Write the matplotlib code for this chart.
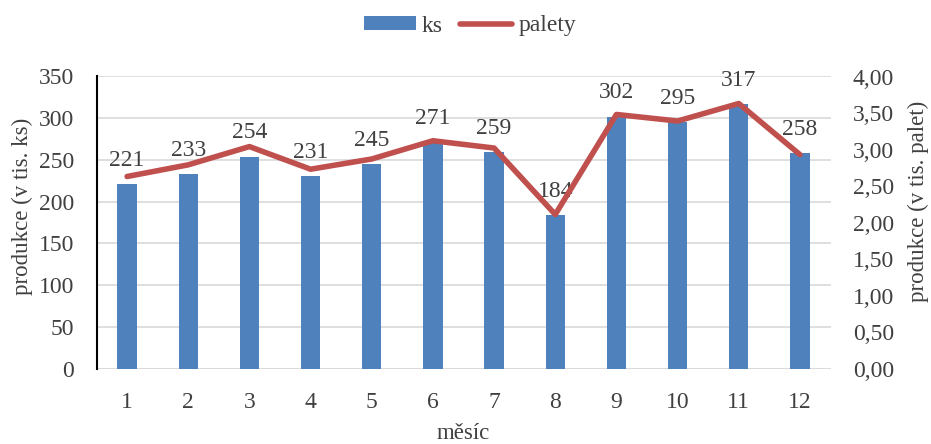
import matplotlib
matplotlib.use("Agg")
import matplotlib.pyplot as plt

months = [1, 2, 3, 4, 5, 6, 7, 8, 9, 10, 11, 12]
ks = [221, 233, 254, 231, 245, 271, 259, 184, 302, 295, 317, 258]
palety = [2.63, 2.79, 3.04, 2.73, 2.87, 3.12, 3.02, 2.11, 3.48, 3.39, 3.63, 2.93]
left_ticks = [0, 50, 100, 150, 200, 250, 300, 350]
right_ticks = [0, 0.5, 1.0, 1.5, 2.0, 2.5, 3.0, 3.5, 4.0]

plt.rcParams['font.family'] = ['Liberation Serif', 'DejaVu Serif']
text_c = '#404040'
fs = 17
W, H = 931, 444

fig = plt.figure(figsize=(W / 100, H / 100), dpi=100)
ax = fig.add_axes([96.5 / W, 1 - 368.5 / H, (830.5 - 96.5) / W, (368.5 - 76.5) / H])
ax2 = ax.twinx()

bars = ax.bar(months, ks, width=0.315, color='#4f81bd', zorder=2, label='ks')
line, = ax2.plot(months, palety, color='#c0504d', lw=4, solid_capstyle='round',
                 solid_joinstyle='round', zorder=3, label='palety')

ax.set_xlim(0.5, 12.5)
ax.set_ylim(0, 350)
ax2.set_ylim(0, 4)
ax.set_yticks(left_ticks)
ax2.set_yticks(right_ticks)
ax2.set_yticklabels([f"{v:.2f}".replace('.', ',') for v in right_ticks])
ax.set_xticks(months)

ax.grid(axis='y', color='#d9d9d9', lw=1.2, zorder=0)
ax.set_axisbelow(True)
for s in ['top', 'right', 'bottom']:
    ax.spines[s].set_visible(False)
for s in ['top', 'right', 'left', 'bottom']:
    ax2.spines[s].set_visible(False)
ax.spines['left'].set_color('black')
ax.spines['left'].set_linewidth(1.5)
ax.axhline(0, color='#d9d9d9', lw=1.2, zorder=1)

ax.tick_params(axis='both', length=0, labelsize=fs, labelcolor=text_c)
ax.tick_params(axis='x', pad=17)
ax.tick_params(axis='y', pad=16)
ax2.tick_params(axis='y', length=0, labelsize=fs, labelcolor=text_c, pad=16)

for m, v in zip(months, ks):
    ax.annotate(str(v), (m, v), xytext=(0, 17), textcoords='offset points',
                ha='center', va='center', fontsize=fs, color=text_c, zorder=4)

# axis titles
fig.text(22 / W, 1 - 206 / H, 'produkce (v tis. ks)', rotation=90, ha='center',
         va='center', fontsize=16.5, color=text_c)
fig.text(918 / W, 1 - 201 / H, 'produkce (v tis. palet)', rotation=90, ha='center',
         va='center', fontsize=16.5, color=text_c)
fig.text(463 / W, 1 - 433 / H, 'měsíc', ha='center', va='center',
         fontsize=16.5, color=text_c)

fig.legend(handles=[bars, line], labels=['ks', 'palety'], loc='center',
           bbox_to_anchor=(470 / W, 1 - 26 / H), ncol=2, frameon=False,
           fontsize=fs, labelcolor=text_c, handlelength=2.2, handleheight=0.5,
           handletextpad=0.25, columnspacing=0.75)

fig.savefig('out.png', dpi=100)
